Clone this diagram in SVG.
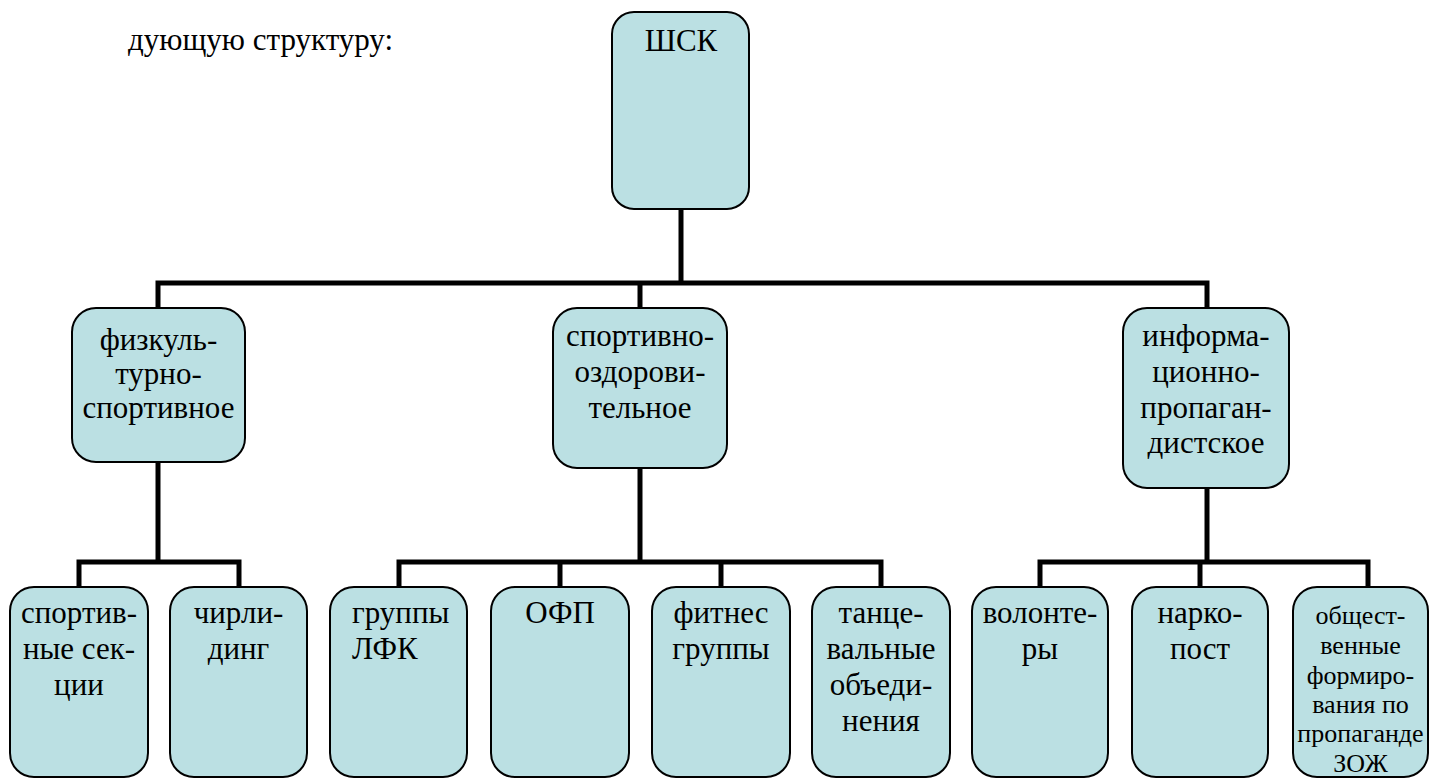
<svg xmlns="http://www.w3.org/2000/svg" width="1437" height="780" viewBox="0 0 1437 780">
<style>
.box{fill:#bbe0e3;stroke:#000;stroke-width:2}
.t{font-family:Liberation Serif,Times New Roman,Times,serif;font-size:31px;fill:#000;text-anchor:middle}
.ts{font-family:Liberation Serif,Times New Roman,Times,serif;font-size:26px;fill:#000;text-anchor:middle}
.h{font-size:31px;fill:#000}
.c{fill:none;stroke:#000;stroke-width:5;stroke-linejoin:miter}
</style>
<rect width="1437" height="780" fill="#fff"/>
<text class="h" font-family="Liberation Serif" x="128" y="50">дующую структуру:</text>
<g id="connectors">
<path class="c" d="M681,209 V283"/>
<path class="c" d="M158,308 V283 H1207 V308"/>
<path class="c" d="M640,283 V308"/>
<path class="c" d="M158,462 V562"/>
<path class="c" d="M79,587 V562 H239 V587"/>
<path class="c" d="M640,468 V562"/>
<path class="c" d="M399,587 V562 H881 V587"/>
<path class="c" d="M560,562 V587"/>
<path class="c" d="M721,562 V587"/>
<path class="c" d="M1207,488 V562"/>
<path class="c" d="M1040,587 V562 H1368 V587"/>
<path class="c" d="M1200,562 V587"/>
</g>
<g id="n-shk"><rect class="box" x="612" y="12" width="137" height="197" rx="22"/><text class="t" x="681" y="51">ШСК</text></g>
<g id="n-fiz"><rect class="box" x="72" y="308" width="173" height="154" rx="24"/><text class="t"><tspan x="158.5" y="350">физкуль-</tspan><tspan x="158.5" y="384">турно-</tspan><tspan x="158.5" y="418">спортивное</tspan></text></g>
<g id="n-spo"><rect class="box" x="553" y="308" width="174" height="160" rx="24"/><text class="t"><tspan x="640" y="346">спортивно-</tspan><tspan x="640" y="382">оздорови-</tspan><tspan x="640" y="418">тельное</tspan></text></g>
<g id="n-inf"><rect class="box" x="1123" y="308" width="166" height="180" rx="24"/><text class="t"><tspan x="1206" y="346">информа-</tspan><tspan x="1206" y="382">ционно-</tspan><tspan x="1206" y="418">пропаган-</tspan><tspan x="1206" y="453">дистское</tspan></text></g>
<g id="n-sec"><rect class="box" x="10" y="587" width="138" height="190" rx="24"/><text class="t"><tspan x="79" y="623">спортив-</tspan><tspan x="79" y="659">ные сек-</tspan><tspan x="79" y="695">ции</tspan></text></g>
<g id="n-chir"><rect class="box" x="170" y="587" width="137" height="190" rx="24"/><text class="t"><tspan x="238.5" y="623">чирли-</tspan><tspan x="238.5" y="659">динг</tspan></text></g>
<g id="n-lfk"><rect class="box" x="330" y="587" width="137" height="190" rx="24"/><text class="t" style="text-anchor:start"><tspan x="352" y="623">группы</tspan><tspan x="352" y="659">ЛФК</tspan></text></g>
<g id="n-ofp"><rect class="box" x="491" y="587" width="138" height="190" rx="24"/><text class="t" x="560" y="623">ОФП</text></g>
<g id="n-fit"><rect class="box" x="652" y="587" width="138" height="190" rx="24"/><text class="t"><tspan x="721" y="623">фитнес</tspan><tspan x="721" y="659">группы</tspan></text></g>
<g id="n-tan"><rect class="box" x="812" y="587" width="138" height="190" rx="24"/><text class="t"><tspan x="881" y="623">танце-</tspan><tspan x="881" y="659">вальные</tspan><tspan x="881" y="695">объеди-</tspan><tspan x="881" y="731">нения</tspan></text></g>
<g id="n-vol"><rect class="box" x="972" y="587" width="136" height="190" rx="24"/><text class="t"><tspan x="1040" y="623">волонте-</tspan><tspan x="1040" y="659">ры</tspan></text></g>
<g id="n-nar"><rect class="box" x="1132" y="587" width="136" height="190" rx="24"/><text class="t"><tspan x="1200" y="623">нарко-</tspan><tspan x="1200" y="659">пост</tspan></text></g>
<g id="n-obs"><rect class="box" x="1293" y="587" width="135" height="190" rx="24"/><text class="ts"><tspan x="1360.5" y="624">общест-</tspan><tspan x="1360.5" y="654">венные</tspan><tspan x="1360.5" y="684">формиро-</tspan><tspan x="1360.5" y="713">вания по</tspan><tspan x="1360.5" y="742">пропаганде</tspan><tspan x="1360.5" y="772">ЗОЖ</tspan></text></g>
</svg>
